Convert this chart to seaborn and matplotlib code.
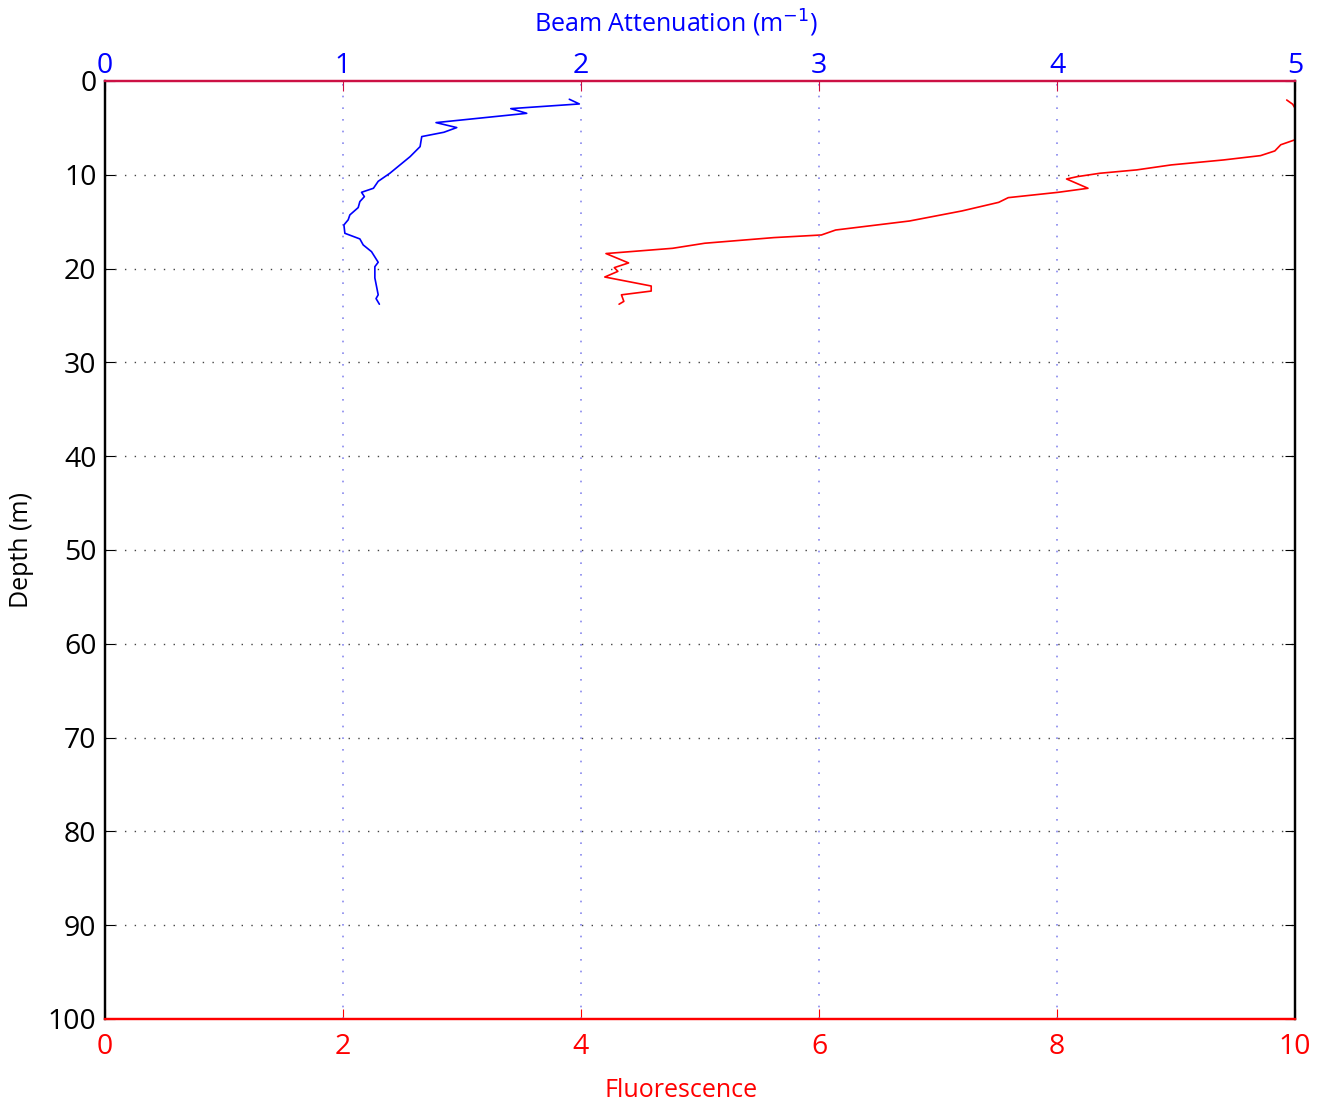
import numpy as np
import pandas as pd
import matplotlib
matplotlib.use("Agg")
import matplotlib.pyplot as plt
import seaborn as sns

# beam attenuation profile (m^-1) vs depth (m)
beam_depth = [1.95, 2.45, 2.95, 3.45, 4.44, 4.97, 5.47, 5.93, 7.0, 8.07, 9.84, 10.7, 11.44,
              11.87, 12.33, 12.86, 13.5, 14.28, 14.8, 15.35, 16.24, 16.84, 17.48, 18.2,
              19.33, 19.8, 21.0, 21.9, 22.8, 23.2, 23.8]
beam_val = [1.951, 1.993, 1.705, 1.772, 1.391, 1.478, 1.424, 1.331, 1.324, 1.282, 1.197,
            1.148, 1.128, 1.078, 1.090, 1.071, 1.064, 1.029, 1.022, 1.004, 1.008, 1.071,
            1.085, 1.12, 1.148, 1.134, 1.134, 1.141, 1.148, 1.139, 1.153]

# fluorescence profile vs depth (m)
fluor_depth = [2.03, 2.48, 2.9, 6.27, 6.8, 7.46, 7.96, 8.42, 8.95, 9.48, 9.84, 10.2, 10.45,
               11.44, 11.87, 12.44, 12.94, 13.86, 14.93, 15.89, 16.42, 16.7, 17.3, 17.84,
               18.4, 19.4, 19.9, 20.3, 20.9, 21.86, 22.4, 22.8, 23.5, 23.8]
fluor_val = [9.93, 9.98, 10.0, 10.0, 9.88, 9.83, 9.71, 9.40, 8.96, 8.67, 8.36, 8.17, 8.08,
             8.26, 8.01, 7.59, 7.51, 7.20, 6.76, 6.14, 6.02, 5.62, 5.04, 4.77, 4.21, 4.40,
             4.28, 4.31, 4.20, 4.59, 4.59, 4.34, 4.36, 4.32]

depth_ticks = list(range(0, 101, 10))
fluor_ticks = [0, 2, 4, 6, 8, 10]
beam_ticks = [0, 1, 2, 3, 4, 5]

sns.set_style("white")
plt.rcParams["font.family"] = ["Open Sans", "DejaVu Sans"]

fig = plt.figure(figsize=(13.25, 11.06), dpi=100)
ax = fig.add_axes([0.0792, 0.0787, 0.8982, 0.8481])

sns.lineplot(x=fluor_val, y=fluor_depth, sort=False, estimator=None, ax=ax,
             color="red", lw=1.2)
ax.set_xlim(0, 10)
ax.set_ylim(100, 0)
ax.set_xticks(fluor_ticks)
ax.set_yticks(depth_ticks)
ax.set_xticklabels([str(t) for t in fluor_ticks], color="red", fontsize=20.5)
ax.set_yticklabels([str(t) for t in depth_ticks], color="black", fontsize=20.5)
ax.tick_params(axis="x", direction="in", length=7, color="red", pad=10, top=False)
ax.tick_params(axis="y", direction="in", length=7, color="black", left=True, right=True,
               labelright=False, pad=6)
ax.set_xlabel("Fluorescence", color="red", fontsize=18, labelpad=12, x=0.484)
ax.set_ylabel("Depth (m)", color="black", fontsize=18, labelpad=10)
for y in depth_ticks[1:-1]:
    ax.axhline(y, color="#444444", ls=(0, (1, 6)), lw=1.0, zorder=0)

ax2 = ax.twiny()
sns.lineplot(x=beam_val, y=beam_depth, sort=False, estimator=None, ax=ax2,
             color="blue", lw=1.2)
ax2.set_xlim(0, 5)
ax2.set_ylim(100, 0)
ax2.set_xticks(beam_ticks)
ax2.set_xticklabels([str(t) for t in beam_ticks], color="blue", fontsize=20.5)
ax2.tick_params(axis="x", direction="in", length=7, color="#cc1144", pad=1)
ax2.set_xlabel("Beam Attenuation (m$^{-1}$)", color="blue", fontsize=18, labelpad=14, x=0.48)
for xv in beam_ticks[1:-1]:
    ax2.axvline(xv, color="#8888ee", ls=(0, (1, 6)), lw=1.2, zorder=0)

for a in (ax, ax2):
    a.spines["left"].set_color("black")
    a.spines["right"].set_color("black")
    a.spines["top"].set_color("#cc1144")
    a.spines["bottom"].set_color("red")
    for s in a.spines.values():
        s.set_linewidth(1.6)

fig.savefig("out.png", dpi=100)
